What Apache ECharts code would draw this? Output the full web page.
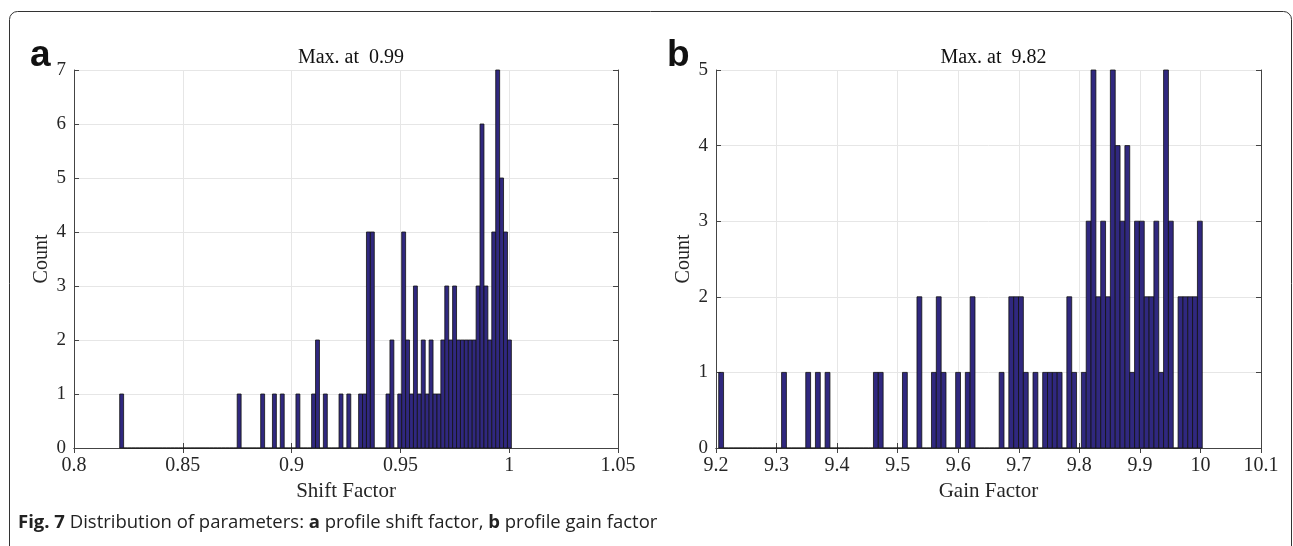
<!DOCTYPE html>
<html>
<head>
<meta charset="utf-8">
<script src="https://cdn.jsdelivr.net/npm/echarts@6/dist/echarts.min.js"></script>
<style>
html,body{margin:0;padding:0;background:#fff}
#chart{width:1293px;height:546px}
</style>
</head>
<body>
<div id="chart"></div>
<script>
// histogram a: shift factor, 100 bins between min and max
const shiftMin=0.821, shiftMax=1.001;
const shiftCounts=[
  1,0,0,0,0,0,0,0,0,0, 0,0,0,0,0,0,0,0,0,0,
  0,0,0,0,0,0,0,0,0,0, 1,0,0,0,0,0,1,0,0,1,
  0,1,0,0,0,1,0,0,0,1, 2,0,1,0,0,0,1,0,1,0,
  0,1,1,4,4,0,0,0,1,2, 0,1,4,2,1,3,1,2,1,2,
  1,1,2,3,2,3,2,2,2,2, 2,3,6,3,2,4,7,5,4,2
];
const shiftTicks=[0.8,0.85,0.9,0.95,1,1.05];
// histogram b: gain factor
const gainMin=9.2045, gainMax=10.003;
const gainCounts=[
  1,0,0,0,0,0,0,0,0,0, 0,0,0,1,0,0,0,0,1,0,
  1,0,1,0,0,0,0,0,0,0, 0,0,1,1,0,0,0,0,1,0,
  0,2,0,0,1,2,1,0,0,1, 0,1,2,0,0,0,0,0,1,0,
  2,2,2,1,0,1,0,1,1,1, 1,0,2,1,0,1,3,5,2,3,
  2,5,4,3,4,1,3,3,2,2, 3,1,5,3,0,2,2,2,2,3
];
const gainTicks=[9.2,9.3,9.4,9.5,9.6,9.7,9.8,9.9,10,10.1];
const titles=["Max. at  0.99","Max. at  9.82"];
const xNames=["Shift Factor","Gain Factor"];

const serif="'Liberation Serif','Times New Roman',serif";
const ink="#262626", barColor="#30287f";

function bins(lo,hi,counts){
  const w=(hi-lo)/counts.length;
  return counts.map((c,i)=>[lo+i*w,lo+(i+1)*w,c]);
}

function renderBar(params,api){
  const p0=api.coord([api.value(0),0]);
  const p1=api.coord([api.value(1),api.value(2)]);
  return{
    type:"rect",
    shape:{x:p0[0],y:p1[1],width:p1[0]-p0[0],height:p0[1]-p1[1]},
    style:{fill:barColor,stroke:"#111",lineWidth:0.8}
  };
}

const grids=[
  {left:74,top:70,width:544,height:378},
  {left:716,top:70,width:545,height:378}
];

function xAxes(gi,ticks){
  const base={
    type:"value",gridIndex:gi,min:ticks[0],max:ticks[ticks.length-1],
    interval:+(ticks[1]-ticks[0]).toFixed(4),
    axisLine:{lineStyle:{color:"#444",width:1}},
    axisTick:{inside:true,length:5,lineStyle:{color:"#444"}},
    splitLine:{show:false}
  };
  return[
    {...base,position:"bottom",
      name:xNames[gi],nameLocation:"middle",nameGap:33,
      nameTextStyle:{fontFamily:serif,fontSize:21,color:ink},
      axisLabel:{fontFamily:serif,fontSize:20,color:ink,margin:8,formatter:v=>String(+v.toFixed(2))},
      splitLine:{show:true,lineStyle:{color:"#e6e6e6"}}},
    {...base,position:"top",axisLabel:{show:false}}
  ];
}

function yAxes(gi,max){
  const base={
    type:"value",gridIndex:gi,min:0,max:max,interval:1,
    axisLine:{show:true,lineStyle:{color:"#444",width:1}},
    axisTick:{show:true,inside:true,length:5,lineStyle:{color:"#444"}},
    splitLine:{show:false}
  };
  return[
    {...base,position:"left",
      name:"Count",nameLocation:"middle",nameGap:22,
      nameTextStyle:{fontFamily:serif,fontSize:20,color:ink},
      axisLabel:{fontFamily:serif,fontSize:19,color:ink,margin:8},
      splitLine:{show:true,lineStyle:{color:"#e6e6e6"}}},
    {...base,position:"right",axisLabel:{show:false}}
  ];
}

const chart=echarts.init(document.getElementById("chart"),null,{renderer:"canvas"});
chart.setOption({
  animation:false,
  grid:grids,
  title:titles.map((t,i)=>({
    text:t,left:grids[i].left+grids[i].width/2,textAlign:"center",top:43,
    textStyle:{fontFamily:serif,fontSize:20,fontWeight:"normal",color:"#111"}
  })),
  xAxis:[...xAxes(0,shiftTicks),...xAxes(1,gainTicks)],
  yAxis:[...yAxes(0,7),...yAxes(1,5)],
  series:[
    {type:"custom",xAxisIndex:0,yAxisIndex:0,renderItem:renderBar,
      encode:{x:[0,1],y:2},data:bins(shiftMin,shiftMax,shiftCounts),clip:false},
    {type:"custom",xAxisIndex:2,yAxisIndex:2,renderItem:renderBar,
      encode:{x:[0,1],y:2},data:bins(gainMin,gainMax,gainCounts),clip:false}
  ],
  graphic:[
    {type:"rect",shape:{x:9.5,y:11.5,width:1282,height:600,r:8},
      style:{fill:"none",stroke:"#333",lineWidth:1},silent:true},
    {type:"text",left:30,top:37,style:{text:"a",font:"bold 37px 'Liberation Sans',Arial,sans-serif",fill:"#111"}},
    {type:"text",left:667,top:37,style:{text:"b",font:"bold 37px 'Liberation Sans',Arial,sans-serif",fill:"#111"}},
    {type:"text",left:18,top:513,style:{
      text:"{b|Fig. 7} Distribution of parameters: {b|a} profile shift factor, {b|b} profile gain factor",
      font:"18.5px 'Open Sans',sans-serif",fill:"#222",
      rich:{b:{fontWeight:"bold",fontFamily:"'Open Sans',sans-serif",fontSize:18.5,fill:"#222"}}
    }}
  ]
});
</script>
</body>
</html>
